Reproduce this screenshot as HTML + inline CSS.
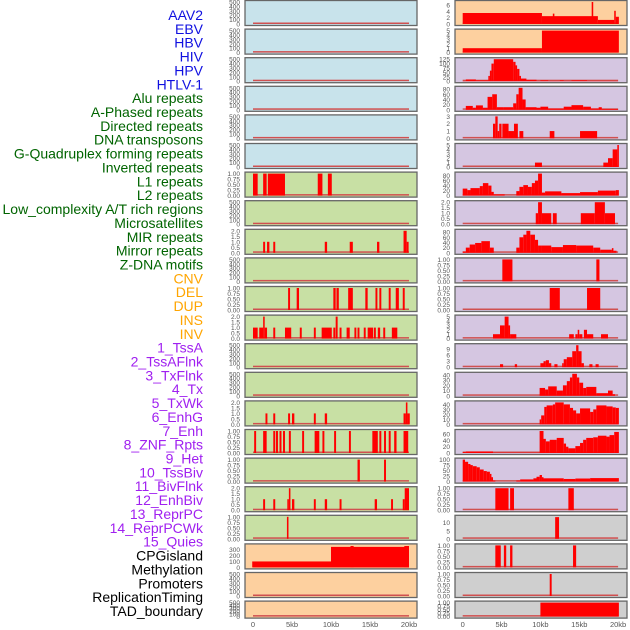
<!DOCTYPE html>
<html><head><meta charset="utf-8"><style>
html,body{margin:0;padding:0;background:#fff;}
svg{display:block;font-family:"Liberation Sans",sans-serif;}
</style></head><body>
<svg id="chart" width="630" height="630" viewBox="0 0 630 630" xmlns="http://www.w3.org/2000/svg">
<g id="labels"></g>
<g id="panels"></g>
<g id="xaxes"></g>
</svg>
<script>
const trackLabels = ["AAV2","EBV","HBV","HIV","HPV","HTLV-1","Alu repeats","A-Phased repeats","Directed repeats","DNA transposons","G-Quadruplex forming repeats","Inverted repeats","L1 repeats","L2 repeats","Low_complexity A/T rich regions","Microsatellites","MIR repeats","Mirror repeats","Z-DNA motifs","CNV","DEL","DUP","INS","INV","1_TssA","2_TssAFlnk","3_TxFlnk","4_Tx","5_TxWk","6_EnhG","7_Enh","8_ZNF_Rpts","9_Het","10_TssBiv","11_BivFlnk","12_EnhBiv","13_ReprPC","14_ReprPCWk","15_Quies","CPGisland","Methylation","Promoters","ReplicationTiming","TAD_boundary"];
const labelColors = ["#1010e0","#1010e0","#1010e0","#1010e0","#1010e0","#1010e0","#006400","#006400","#006400","#006400","#006400","#006400","#006400","#006400","#006400","#006400","#006400","#006400","#006400","#ffa500","#ffa500","#ffa500","#ffa500","#ffa500","#a020f0","#a020f0","#a020f0","#a020f0","#a020f0","#a020f0","#a020f0","#a020f0","#a020f0","#a020f0","#a020f0","#a020f0","#a020f0","#a020f0","#a020f0","#000","#000","#000","#000","#000"];
const xTickValues = [0,5,10,15,20];
const xTickLabels = ["0","5kb","10kb","15kb","20kb"];

// tick sets
const T500 = [[0,100,200,300,400,500],["0","100","200","300","400","500"],500];
const T1 = [[0,0.25,0.5,0.75,1],["0.00","0.25","0.50","0.75","1.00"],1];
const T2 = [[0,0.5,1,1.5,2],["0.0","0.5","1.0","1.5","2.0"],2];

const leftTicks = [T500,T500,T500,T500,T500,T500,T1,T500,T2,T500,T1,T2,T500,T500,T2,T1,T1,T2,T1,[[0,100,200,300],["0","100","200","300"],370],T500,T500];
const leftBg = ["#c8e3eb","#c8e3eb","#c8e3eb","#c8e3eb","#c8e3eb","#c8e3eb","#c8e0a4","#c8e0a4","#c8e0a4","#c8e0a4","#c8e0a4","#c8e0a4","#c8e0a4","#c8e0a4","#c8e0a4","#c8e0a4","#c8e0a4","#c8e0a4","#c8e0a4","#fdd09f","#fdd09f","#fdd09f"];
// segments [startKb, endKb, value]
const left6 = [[0,0.6,1],[1.3,1.75,1],[1.9,4.1,1],[8.3,8.9,1],[9.6,10.1,1]];
const left8 = [[1.3,1.55,1],[1.8,2.1,1],[2.6,2.85,1],[9.2,9.5,1],[12.4,12.8,1],[15.9,16.2,1],[19.3,19.7,2],[19.7,19.95,1]];
const left10 = [[4.5,4.75,1],[5.6,5.9,1],[10.3,10.6,1],[10.7,11.0,1],[12.2,12.8,1],[14.4,14.7,1],[15.7,15.95,1],[16.2,16.45,1],[17.4,17.65,1],[18.3,18.7,1],[19.2,19.45,1]];
const left11 = [[0,0.6,1],[0.8,1.3,1],[1.3,1.5,2],[1.5,1.8,1],[2.6,2.85,1],[4.1,4.9,1],[6.0,6.25,1],[7.8,8.05,1],[8.8,10.1,1],[10.3,10.55,1],[10.6,10.85,2],[11.1,11.35,1],[12.0,12.4,1],[13.0,13.25,1],[13.4,13.65,1],[14.2,14.45,1],[14.7,15.4,1],[15.5,15.75,1],[16.0,16.3,1],[16.7,16.95,1],[17.8,18.5,1]];
const left14 = [[1.6,1.85,1],[2.6,2.85,1],[4.5,4.75,1],[5.0,5.3,1],[7.8,8.05,1],[9.2,9.5,1],[19.3,19.6,1],[19.6,19.8,2],[19.8,20.1,1]];
const left15 = [[0.15,0.4,1],[1.3,1.75,1],[2.6,2.85,1],[2.95,3.2,1],[3.4,3.65,1],[3.85,4.1,1],[4.6,4.85,1],[6.3,6.55,1],[7.9,8.5,1],[8.9,9.15,1],[10.4,10.65,1],[12.3,12.55,1],[15.3,16.0,1],[16.2,16.45,1],[16.8,17.05,1],[17.4,17.65,1],[18.1,18.4,1],[19.3,19.9,1]];
const left16 = [[13.4,13.7,1],[16.8,17.05,1]];
const left17 = [[1.3,1.55,1],[2.6,2.85,1],[4.4,4.6,1],[4.6,4.8,2],[5.0,5.3,1],[7.8,8.05,1],[9.2,9.5,1],[11.1,11.35,1],[15.6,15.9,1],[17.7,17.95,1],[19.2,19.45,1],[19.45,20.0,2]];
const left18 = [[4.35,4.55,1]];
const left19 = [[-0.1,10,100],[10,20,345],[12.5,12.9,360],[19.4,20,360]];
const leftSegs = [[],[],[],[],[],[],left6,[],left8,[],left10,left11,[],[],left14,left15,left16,left17,left18,left19,[],[]];

const rightTicks = [
 [[0,2,4,6],["0","2","4","6"],7],
 [[0,1,2,3,4,5],["0","1","2","3","4","5"],5],
 [[0,25,50,75,100,125],["0","25","50","75","100","125"],125],
 [[0,20,40,60,80],["0","20","40","60","80"],85],
 [[0,1,2,3],["0","1","2","3"],3],
 [[0,1,2,3,4,5],["0","1","2","3","4","5"],5],
 [[0,20,40,60,80],["0","20","40","60","80"],88],
 T2,
 [[0,20,40,60,80],["0","20","40","60","80"],85],
 T1,T1,
 [[0,1,2,3,4,5],["0","1","2","3","4","5"],5],
 [[0,3,6,9],["0","3","6","9"],11],
 [[0,10,20,30,40],["0","10","20","30","40"],42],
 [[0,10,20,30,40],["0","10","20","30","40"],44],
 [[0,20,40,60],["0","20","40","60"],70],
 [[0,25,50,75,100],["0","25","50","75","100"],100],
 T1,
 [[0,5,10],["0","5","10"],13.7],
 T1,T1,T1];
const rightBg = ["#fdd09f","#fdd09f","#d5c6e1","#d5c6e1","#d5c6e1","#d5c6e1","#d5c6e1","#d5c6e1","#d5c6e1","#d5c6e1","#d5c6e1","#d5c6e1","#d5c6e1","#d5c6e1","#d5c6e1","#d5c6e1","#d5c6e1","#d5c6e1","#cfcfcf","#cfcfcf","#cfcfcf","#cfcfcf"];
const right0 = [[0,10.2,3.5],[10.2,17.4,2.5],[11.6,11.8,3.3],[16.6,16.8,7],[17.4,19.5,1.3],[19.5,19.7,4.2],[19.7,20.1,2.3]];
const right1 = [[0,10.2,1],[10.2,20.1,5]];
const right2 = [[0,0.4,2],[0.4,1.7,10],[1.7,3.3,5],[3.3,3.5,30],[3.5,3.7,60],[3.7,4.0,100],[4.0,6.5,125],[6.5,6.8,110],[6.8,7.0,90],[7.0,7.3,70],[7.3,7.5,30],[7.5,8.2,15],[8.2,9.5,8],[9.5,10,2],[10,11,5],[11,12.5,2],[12.5,13,5],[13,14,2],[14,16,5],[16,20,2]];
const right3 = [[0.4,1.3,15],[1.3,1.7,8],[1.7,2.6,17],[2.6,3.2,8],[3.2,3.8,50],[3.8,4.4,60],[4.4,5.2,10],[5.2,6.5,10],[6.5,6.9,25],[6.9,7.2,60],[7.2,7.7,85],[7.7,8.1,40],[8.1,9.5,10],[9.5,10,8],[10,11,12],[11,13,5],[13,14,12],[14,15.5,18],[15.5,16.5,12],[16.5,17.5,5],[17.5,17.9,10],[17.9,20,3]];
const right4 = [[3.9,4.2,2],[4.2,4.5,3],[4.5,4.7,1],[4.7,5.0,2],[5.1,5.9,2],[5.9,6.6,1],[6.6,7.1,2],[7.3,7.8,1],[11.2,11.8,1],[15.1,17.3,1]];
const right5 = [[9.3,10.2,1],[18.1,18.7,1],[18.7,19.3,2],[19.3,19.9,4],[19.9,20.1,5]];
const right6 = [[0,0.6,28],[0.6,1.0,22],[1.0,2.2,30],[2.2,2.6,38],[2.6,3.3,50],[3.3,3.7,40],[3.7,4.0,15],[4.0,5.4,5],[6.9,7.3,18],[7.3,7.8,35],[7.8,8.4,42],[8.4,8.9,35],[8.9,9.3,50],[9.3,9.7,60],[9.7,10.2,88],[10.2,10.6,12],[10.6,12.7,17],[12.7,15.1,10],[15.1,17.4,14],[17.4,19.7,20],[19.7,20.1,22]];
const right7 = [[9.4,9.7,1],[9.7,10.2,2],[10.2,11.4,1],[11.6,12.1,1],[15.2,17.0,1],[17.0,18.3,2],[18.3,19.6,1]];
const right8 = [[0,0.4,5],[0.4,0.9,20],[0.9,1.6,32],[1.6,2.4,38],[2.4,3.5,45],[3.5,4.0,20],[6.9,7.3,20],[7.3,7.8,60],[7.8,8.2,70],[8.2,8.7,85],[8.7,9.3,70],[9.3,9.7,50],[9.7,10.2,28],[10.2,11.4,28],[11.4,12.9,22],[12.9,14.6,30],[14.6,16.8,28],[16.8,17.7,20],[17.7,19.2,12],[19.2,19.4,18],[19.4,19.8,8]];
const right9 = [[5.1,6.4,1],[17.2,17.6,1]];
const right10 = [[11.2,12.5,1],[16.0,17.7,1]];
const right11 = [[3.9,4.8,1],[4.8,5.4,3],[5.4,5.9,5],[5.9,6.1,3],[6.1,6.9,1],[13.7,14.3,1],[14.5,14.8,1],[14.8,15.0,2],[15.0,15.4,1],[15.6,16.0,2],[16.0,16.8,1],[17.8,18.7,1]];
const right12 = [[4.8,5.2,1.5],[6.7,7.0,1.5],[10.0,10.4,2],[10.4,10.7,3],[10.7,11.1,3.5],[11.1,11.4,2],[11.8,12.2,1.5],[12.8,13.0,2],[13.0,13.4,4],[13.4,14.1,5],[14.1,14.6,8],[14.6,14.9,11],[14.9,15.3,8],[15.3,15.6,2],[16.3,16.7,1.5],[17.1,17.5,1.5]];
const right13 = [[9.9,10.6,15],[10.6,11.0,12],[11.0,12.1,18],[12.1,12.9,10],[12.9,13.4,20],[13.4,13.8,28],[13.8,14.1,35],[14.1,14.7,42],[14.7,15.0,35],[15.0,15.5,25],[15.5,15.9,15],[15.9,17.2,17],[17.2,18.7,5],[18.7,19.3,10],[19.3,19.6,3]];
const right14 = [[9.9,10.1,10],[10.1,10.5,18],[10.5,10.8,35],[10.8,11.6,38],[11.6,11.9,40],[11.9,13.0,44],[13.0,13.8,40],[13.8,14.2,33],[14.2,14.6,28],[14.6,15.1,22],[15.1,16.4,32],[16.4,16.8,25],[16.8,17.2,30],[17.2,18.5,38],[18.5,19.3,36],[19.3,19.7,34],[19.7,20.1,33]];
const right15 = [[0,0.4,3],[0.4,3.9,5],[3.9,9.9,1],[9.9,10.4,70],[10.4,10.7,45],[10.7,11.2,37],[11.2,12.1,42],[12.1,13.0,48],[13.0,13.3,30],[13.3,13.6,20],[13.6,14.5,15],[14.5,15.1,22],[15.1,15.5,32],[15.5,15.9,42],[15.9,16.8,48],[16.8,17.4,50],[17.4,18.5,55],[18.5,18.9,52],[18.9,19.5,57],[19.5,20.1,67]];
const right16 = [[0,0.3,100],[0.3,0.7,90],[0.7,1.0,80],[1.0,1.3,75],[1.3,1.8,70],[1.8,2.2,65],[2.2,2.7,55],[2.7,3.1,48],[3.1,3.5,45],[3.5,3.7,35],[3.7,3.9,20],[3.9,4.2,5],[6.9,7.4,5],[7.4,9.1,10],[9.1,9.5,15],[9.5,9.9,22],[9.9,10.2,30],[10.2,10.4,20],[10.4,13.0,15],[13.0,14.5,12],[14.5,16.4,14],[16.4,20.1,16]];
const right17 = [[4.2,5.9,1],[6.1,6.6,1],[13.6,14.3,1]];
const right18 = [[11.9,12.4,13.5]];
const right19 = [[4.2,4.9,1],[5.3,5.6,1],[6.1,6.4,1],[14.2,14.6,1]];
const right20 = [[11.2,11.45,1]];
const right21 = [[10.0,20.1,1]];
const rightSegs = [right0,right1,right2,right3,right4,right5,right6,right7,right8,right9,right10,right11,right12,right13,right14,right15,right16,right17,right18,right19,right20,right21];

const NS = "http://www.w3.org/2000/svg";
function mk(tag, attrs, parent){ const e=document.createElementNS(NS,tag); for(const k in attrs) e.setAttribute(k,attrs[k]); parent.appendChild(e); return e; }

// labels
const gL = document.getElementById('labels');
trackLabels.forEach((t,i)=>{
  const el = mk('text',{x:203,y:(20+i*13.86).toFixed(1),'text-anchor':'end','font-size':'14',fill:labelColors[i]},gL);
  
  
  el.textContent = t;
});

const gP = document.getElementById('panels');
const cols = [
  {x0:245,x1:417,ox:253,sx:7.8,tickX:240,bg:leftBg,ticks:leftTicks,segs:leftSegs,side:'left'},
  {x0:455,x1:627,ox:462.7,sx:7.77,tickX:450,bg:rightBg,ticks:rightTicks,segs:rightSegs,side:'right'}
];
cols.forEach(c=>{
  const xs = kb => c.ox + kb*c.sx;
  for(let i=0;i<22;i++){
    const top = i*28.6 + 0.5, h = (i===21?17:25);
    const g = mk('g',{},gP);
    
    
    const bg = mk('rect',{x:c.x0,y:top,width:c.x1-c.x0,height:h,fill:c.bg[i]},g);
    
    
    const yb = top+h-1.5, yt = top+1.5;
    const [tv,tl,ymax] = c.ticks[i];
    const ys = v => yb - (v/ymax)*(yb-yt);
    // baseline
    const bl = mk('rect',{x:xs(0),y:yb-1.5,width:xs(20)-xs(0),height:1.5,fill:'#d05050'},g);
    
    
    c.segs[i].forEach(s=>{
      const y = ys(s[2]);
      const r = mk('rect',{x:xs(s[0]).toFixed(2),y:y.toFixed(2),width:Math.max(1.2,xs(s[1])-xs(s[0])).toFixed(2),height:(yb-y).toFixed(2),fill:'#ff0000'},g);
      
      
    });
    const fr = mk('rect',{x:c.x0,y:top,width:c.x1-c.x0,height:h,fill:'none',stroke:'#666','stroke-width':1.3},g);
    
    
    tv.forEach((v,k)=>{
      const t = mk('text',{x:c.tickX,y:(ys(v)+2.5).toFixed(1),'text-anchor':'end','font-size':'6.5',fill:'#555'},g);
      
      
      t.textContent = tl[k];
    });
  }
  const gX = document.getElementById('xaxes');
  xTickValues.forEach((v,k)=>{
    const t = mk('text',{x:xs(v).toFixed(1),y:627,'text-anchor':'middle','font-size':'7.5',fill:'#555'},gX);
    
    
    t.textContent = xTickLabels[k];
  });
});
</script>
</body></html>
